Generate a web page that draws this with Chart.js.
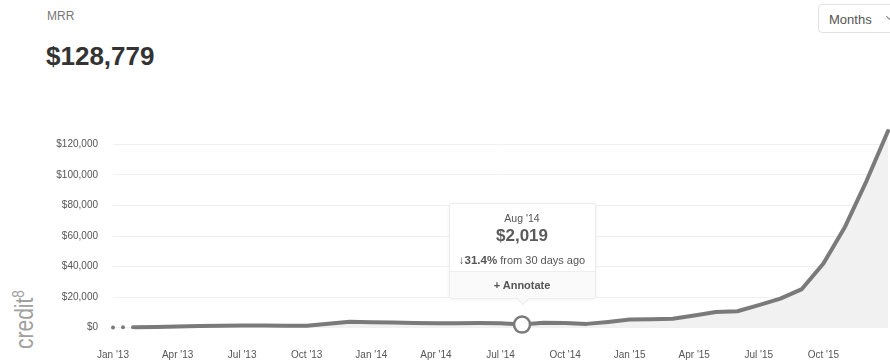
<!DOCTYPE html>
<html>
<head>
<meta charset="utf-8">
<script src="https://cdn.jsdelivr.net/npm/chart.js@4.4.1/dist/chart.umd.min.js"></script>
<style>
  html, body { margin: 0; padding: 0; background: #fff; }
  body { width: 890px; height: 360px; position: relative; overflow: hidden;
         font-family: "Liberation Sans", Arial, sans-serif; }
  #chart { position: absolute; left: 0; top: 0; }
  .title { position: absolute; left: 47px; top: 10px; font-size: 12px; line-height: 12px; color: #777; }
  .total { position: absolute; left: 46px; top: 43px; font-size: 26px; line-height: 26px;
           font-weight: bold; color: #333; }
  .period { position: absolute; left: 818px; top: 4px; width: 90px; height: 27px;
            border: 1px solid #e2e2e2; border-radius: 4px; box-sizing: content-box; }
  .period span { position: absolute; left: 10px; top: 8px; font-size: 13px; line-height: 13px; color: #555; }
  .period i { position: absolute; left: 68px; top: 9px; width: 4px; height: 4px;
              border-right: 1px solid #888; border-bottom: 1px solid #888; transform: rotate(45deg); }
  .brand { position: absolute; left: 6px; top: 349px; transform-origin: 0 0;
           transform: rotate(-90deg) scale(0.84, 1); font-size: 25px; line-height: 25px;
           color: #a0a0a0; white-space: nowrap; }
  .brand sup { font-size: 16px; vertical-align: 9px; }
  #tip { position: absolute; width: 147px; height: 96px; background: #fff;
         border: 1px solid #ececec; border-radius: 3px; box-sizing: border-box;
         box-shadow: 0 1px 4px rgba(0,0,0,0.05); color: #555; text-align: center; }
  #tip .arrow { position: absolute; left: 68px; bottom: -5px; width: 9px; height: 9px;
                background: #fafafa; border-right: 1px solid #ececec; border-bottom: 1px solid #ececec;
                transform: rotate(45deg); }
  #tip .date { position: absolute; left: 0; right: 0; top: 7px; font-size: 10.5px; line-height: 14px; }
  #tip .value { position: absolute; left: 0; right: 0; top: 22px; font-size: 17px; line-height: 20px;
                font-weight: bold; color: #5a5a5a; }
  #tip .change { position: absolute; left: 0; right: 0; top: 49px; font-size: 11px; line-height: 14px; }
  #tip .change b { font-size: 11.5px; }
  #tip .foot { position: absolute; left: 0; right: 0; bottom: 0; height: 26px; line-height: 26px;
               background: #fafafa; border-top: 1px solid #efefef; border-radius: 0 0 3px 3px;
               font-size: 11px; font-weight: bold; color: #555; }
</style>
</head>
<body>
<div class="title">MRR</div>
<div class="total" id="total"></div>
<div class="period"><span>Months</span><i></i></div>
<div class="brand">credit<sup>8</sup></div>
<canvas id="chart" width="890" height="360"></canvas>
<div id="tip">
  <div class="date" id="tipDate"></div>
  <div class="value" id="tipValue"></div>
  <div class="change" id="tipChange"></div>
  <div class="foot">+ Annotate</div>
  <div class="arrow"></div>
</div>
<script>
// monthly recurring revenue, Jan '13 .. Jan '16
const months = [
  "Jan '13", "Feb '13", "Mar '13", "Apr '13", "May '13", "Jun '13",
  "Jul '13", "Aug '13", "Sep '13", "Oct '13", "Nov '13", "Dec '13",
  "Jan '14", "Feb '14", "Mar '14", "Apr '14", "May '14", "Jun '14",
  "Jul '14", "Aug '14", "Sep '14", "Oct '14", "Nov '14", "Dec '14",
  "Jan '15", "Feb '15", "Mar '15", "Apr '15", "May '15", "Jun '15",
  "Jul '15", "Aug '15", "Sep '15", "Oct '15", "Nov '15", "Dec '15",
  "Jan '16"
];
const mrr = [
  150, 300, 450, 800, 1100, 1350,
  1450, 1450, 1300, 1300, 2600, 3900,
  3600, 3400, 3100, 2900, 2950, 3100,
  2943, 2019, 3200, 3000, 2500, 3800,
  5300, 5500, 5800, 8000, 10300, 10800,
  14800, 19000, 25300, 42000, 66000, 96000,
  128779
];
const yTicks = [0, 20000, 40000, 60000, 80000, 100000, 120000];
const tickEvery = 3;        // one x label per quarter
const lastLabelled = 35;    // the running month has no label
const selected = 19;        // highlighted month

const money = v => '$' + Math.round(v).toLocaleString('en-US');

document.getElementById('total').textContent = money(mrr[mrr.length - 1]);
const prev = mrr[selected - 1];
const pct = (mrr[selected] - prev) / prev * 100;
document.getElementById('tipDate').textContent = months[selected];
document.getElementById('tipValue').textContent = money(mrr[selected]);
document.getElementById('tipChange').innerHTML =
  '<b>' + (pct < 0 ? '↓' : '↑') + Math.abs(pct).toFixed(1) + '%</b> from 30 days ago';

// keeps the info box sitting above the highlighted point
const placeTip = {
  id: 'placeTip',
  afterDraw(chart) {
    const pt = chart.getDatasetMeta(0).data[selected];
    const tip = document.getElementById('tip');
    tip.style.left = (pt.x - 73.5) + 'px';
    tip.style.top = (pt.y - 26 - 96) + 'px';
  }
};

Chart.defaults.font.family = '"Liberation Sans", Arial, sans-serif';
Chart.defaults.color = '#555';

new Chart(document.getElementById('chart'), {
  type: 'line',
  data: {
    labels: months,
    datasets: [{
      data: mrr,
      borderColor: '#7a7a7a',
      borderWidth: 4,
      borderCapStyle: 'round',
      borderJoinStyle: 'round',
      tension: 0,
      fill: 'origin',
      backgroundColor: '#f1f1f1',
      clip: false,
      pointRadius: ctx => ctx.dataIndex === selected ? 8 : 0,
      pointBackgroundColor: '#fff',
      pointBorderColor: '#7a7a7a',
      pointBorderWidth: 2.5,
      segment: {
        borderDash: ctx => ctx.p0DataIndex === 0 ? [0, 10] : []
      }
    }]
  },
  options: {
    responsive: false,
    animation: false,
    devicePixelRatio: 1,
    layout: { padding: { top: 131, right: 2, bottom: 0, left: 0 } },
    plugins: { legend: { display: false }, tooltip: { enabled: false } },
    scales: {
      x: {
        offset: false,
        grid: { display: false },
        border: { display: false },
        afterFit: s => { s.height = 32.3; s.paddingLeft = 0; s.paddingRight = 0; },
        ticks: {
          autoSkip: false,
          maxRotation: 0,
          padding: 14,
          font: { size: 10 },
          color: '#555',
          callback: (v, i) => (i % tickEvery === 0 && i <= lastLabelled) ? months[i] : ''
        }
      },
      y: {
        min: 0,
        max: Math.max(...mrr),
        grid: { color: '#f0f0f0', drawTicks: false, lineWidth: 1 },
        border: { display: false },
        afterFit: s => { s.width = 113; },
        afterBuildTicks: s => { s.ticks = yTicks.map(v => ({ value: v })); },
        ticks: {
          padding: 15,
          font: { size: 10 },
          color: '#555',
          callback: v => money(v)
        }
      }
    }
  },
  plugins: [placeTip]
});
</script>
</body>
</html>
